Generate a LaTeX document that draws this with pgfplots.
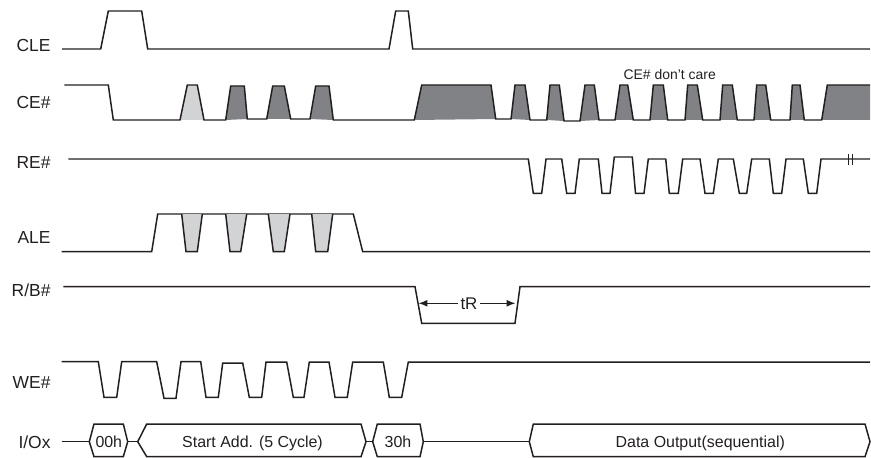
\documentclass[border=0pt]{standalone}
\usepackage{pgfplots}
\pgfplotsset{compat=1.18}
\usepackage{fontspec}
\setmainfont{Liberation Sans}
\usetikzlibrary{arrows.meta}
\definecolor{ln}{HTML}{231F20}
\definecolor{dk}{HTML}{808285}
\definecolor{lt}{HTML}{D1D3D4}
\pgfplotsset{sig/.style={line width=1.5pt, draw=ln, line join=miter, mark=none}}
\begin{document}
\begin{tikzpicture}
\begin{axis}[
  width=871bp, height=458bp, scale only axis,
  xmin=0, xmax=871, ymin=0, ymax=458, y dir=reverse,
  hide axis, clip=false, enlargelimits=false, no markers,
]
\addplot[draw=none, forget plot] coordinates {(0,0) (871,458)};
% ---------- CE# fills
\addplot[fill=lt, draw=none] coordinates {(180,120) (187.3,85) (197.3,85) (204,120)} -- cycle;
\addplot[fill=dk, draw=none] coordinates {(225.7,120) (230.7,86) (244.3,86) (247.3,119)} -- cycle;
\addplot[fill=dk, draw=none] coordinates {(266.7,119) (272.7,86) (284.3,86) (290.7,119)} -- cycle;
\addplot[fill=dk, draw=none] coordinates {(310,119) (315.7,86) (329,86) (333.3,120)} -- cycle;
\addplot[fill=dk, draw=none] coordinates {(414.3,120) (421.7,85) (491,85) (495.7,119)} -- cycle;
\addplot[fill=dk, draw=none] coordinates {(511,119) (515,85) (525,85) (530,120)} -- cycle;
\addplot[fill=dk, draw=none] coordinates {(546.7,120) (550,85) (559.3,85) (564,121)} -- cycle;
\addplot[fill=dk, draw=none] coordinates {(580,121) (585,85) (594.3,85) (599,120)} -- cycle;
\addplot[fill=dk, draw=none] coordinates {(615,120) (620,85) (627.7,85) (633.3,120)} -- cycle;
\addplot[fill=dk, draw=none] coordinates {(650,120) (653.3,85) (663.3,85) (667.7,120)} -- cycle;
\addplot[fill=dk, draw=none] coordinates {(685,120) (687.7,85) (697.3,85) (702.7,120)} -- cycle;
\addplot[fill=dk, draw=none] coordinates {(720,120) (722.7,85) (732.3,85) (737.3,120)} -- cycle;
\addplot[fill=dk, draw=none] coordinates {(754,120) (756.7,85) (765.7,85) (770.7,120)} -- cycle;
\addplot[fill=dk, draw=none] coordinates {(790,120) (792.3,85) (800,85) (804.3,120)} -- cycle;
\addplot[fill=dk, draw=none] coordinates {(821.7,120) (827.3,85) (870,85) (870,120)} -- cycle;
% ---------- CLE
\addplot[sig] coordinates {(62,49) (100.7,49) (108.3,11) (141.7,11) (147.7,49) (389,49) (395.7,11) (408.3,11) (412.7,49) (870,49)};
% ---------- CE#
\addplot[sig] coordinates {(64.3,85) (108.3,85) (113.3,120) (180,120) (187.3,85) (197.3,85) (204,120) (225.7,120) (230.7,86) (244.3,86) (247.3,119) (266.7,119) (272.7,86) (284.3,86) (290.7,119) (310,119) (315.7,86) (329,86) (333.3,120) (414.3,120) (421.7,85) (491,85) (495.7,119) (511,119) (515,85) (525,85) (530,120) (546.7,120) (550,85) (559.3,85) (564,121) (580,121) (585,85) (594.3,85) (599,120) (615,120) (620,85) (627.7,85) (633.3,120) (650,120) (653.3,85) (663.3,85) (667.7,120) (685,120) (687.7,85) (697.3,85) (702.7,120) (720,120) (722.7,85) (732.3,85) (737.3,120) (754,120) (756.7,85) (765.7,85) (770.7,120) (790,120) (792.3,85) (800,85) (804.3,120) (821.7,120) (827.3,85) (870,85)};
% ---------- RE#
\addplot[sig] coordinates {(68.3,159) (528.3,159) (533.3,193.3) (541.7,193.3) (546,159) (561.7,159) (566.7,193.3) (575,193.3) (579.3,159) (598.3,159) (602,193.3) (610,193.3) (614.3,157) (632.3,157) (635.5,193.3) (644,193.3) (648.3,159) (665.7,159) (669.3,193.3) (678.3,193.3) (682.7,159) (700,159) (705,193.3) (713.3,193.3) (718.3,159) (733.3,159) (739.3,193.3) (746.7,193.3) (751.7,159) (769.3,159) (773.3,193.3) (781.7,193.3) (786,159) (803.3,159) (808.3,193.3) (816.7,193.3) (821,159) (870,159)};
\addplot[sig, line width=0.8pt] coordinates {(848.3,154) (848.3,165)};
\addplot[sig, line width=0.8pt] coordinates {(852.3,154) (852.3,165)};
% ---------- ALE
\addplot[sig] coordinates {(61.7,251.7) (151.7,251.7) (157.7,214) (353.3,214) (362.7,251.7) (870,251.7)};
\addplot[sig, fill=lt] coordinates {(181.7,214) (186,251.7) (197.3,251.7) (202.3,214)};
\addplot[sig, fill=lt] coordinates {(225.7,214) (230,251.7) (240.7,251.7) (246.7,214)};
\addplot[sig, fill=lt] coordinates {(268.3,214) (273.3,251.7) (284.3,251.7) (290,214)};
\addplot[sig, fill=lt] coordinates {(311.7,214) (315.7,251.7) (327.7,251.7) (332.7,214)};
% ---------- R/B#
\addplot[sig] coordinates {(63.3,286.7) (415,286.7) (421.7,323.3) (515,323.3) (520,286.7) (870,286.7)};
\addplot[sig, line width=1.2pt, {Latex[length=9pt,width=7pt]}-{Latex[length=9pt,width=7pt]}] coordinates {(418.5,303.3) (515.5,303.3)};
% ---------- WE#
\addplot[sig] coordinates {(61.7,361.7) (98.3,361.7) (104,397.3) (116.7,397.3) (121.7,361.7) (156.7,361.7) (164,398.3) (176,398.3) (181,361.7) (200.7,361.7) (206,397.3) (218.3,397.3) (222.7,363) (242.7,363) (249.3,397.3) (261.7,397.3) (266,362) (286.7,362) (293.3,397.3) (304,397.3) (309.3,362) (329,362) (335,397.3) (347.3,397.3) (352.7,362) (383.3,362) (389.3,397.3) (401.7,397.3) (408.3,362) (870,362)};
% ---------- I/Ox
\addplot[sig] coordinates {(61.7,441.7) (89.3,441.7)};
\addplot[sig] coordinates {(89.3,441.7) (94,424) (123.3,424) (127.7,441.7) (123.3,456.7) (94,456.7)} -- cycle;
\addplot[sig] coordinates {(127.7,441.7) (137.7,441.7)};
\addplot[sig] coordinates {(137.7,441.7) (146.7,424) (361,424) (366,441.7) (361,456.7) (146.7,456.7)} -- cycle;
\addplot[sig] coordinates {(366,441.7) (372.7,441.7)};
\addplot[sig] coordinates {(372.7,441.7) (377.3,424) (420,424) (423.3,441.7) (420,456.7) (377.3,456.7)} -- cycle;
\addplot[sig] coordinates {(423.3,441.7) (529.3,441.7)};
\addplot[sig] coordinates {(529.3,441.7) (533.3,424) (865,424) (870,441.7) (865,456.7) (533.3,456.7)} -- cycle;
% ---------- texts
\begin{scope}[every node/.style={inner sep=0pt, text=ln, font=\fontsize{17.5}{20}\selectfont}]
\node[anchor=base east] at (axis cs:50.7,51.7) {CLE};
\node[anchor=base east] at (axis cs:50.7,108.3) {CE\#};
\node[anchor=base east] at (axis cs:50.7,168.3) {RE\#};
\node[anchor=base east] at (axis cs:50.7,243.3) {ALE};
\node[anchor=base east] at (axis cs:50.7,296.7) {R/B\#};
\node[anchor=base east] at (axis cs:50.7,388.3) {WE\#};
\node[anchor=base east] at (axis cs:50.7,448.3) {I/Ox};
\end{scope}
\begin{scope}[every node/.style={inner sep=0pt, text=ln, font=\fontsize{16}{19}\selectfont}]
\node[anchor=base] at (axis cs:108.8,447.3) {00h};
\node[anchor=base] at (axis cs:252.5,447.3) {Start Add. (5 Cycle)};
\node[anchor=base] at (axis cs:398,447.3) {30h};
\node[anchor=base] at (axis cs:700.3,447.3) {Data Output(sequential)};
\end{scope}
\node[anchor=base, inner sep=0pt, text=ln, font=\fontsize{14}{16}\selectfont] at (axis cs:669.7,80) {CE\# don't care};
\node[fill=white, inner xsep=3pt, inner ysep=1pt, text=ln, font=\fontsize{17}{19}\selectfont] at (axis cs:469,303.3) {tR};
\end{axis}
\end{tikzpicture}
\end{document}
